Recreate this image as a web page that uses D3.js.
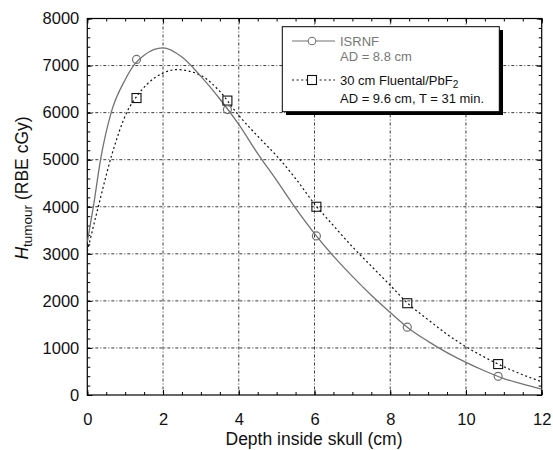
<!DOCTYPE html>
<html>
<head>
<meta charset="utf-8">
<script src="https://cdn.jsdelivr.net/npm/d3@7"></script>
<style>
  body { margin: 0; background: #fff; }
  text { font-family: "Liberation Sans", Arial, Helvetica, sans-serif; }
</style>
</head>
<body>
<svg id="chart" width="553" height="450"></svg>
<script>
// curve samples
const isrnfCurveX = [0, 0.16, 0.35, 0.63, 1.0, 1.25, 1.5, 2.0, 2.5, 3.0, 3.5, 4.0, 4.5, 5.0, 5.5, 6.0, 6.5, 7.0, 7.5, 8.0, 8.5, 9.0, 9.5, 10, 10.5, 11, 11.5, 12];
const isrnfCurveY = [3250, 4000, 5000, 6000, 6700, 7030, 7220, 7375, 7180, 6770, 6290, 5750, 5130, 4560, 3970, 3430, 2950, 2520, 2120, 1754, 1410, 1140, 900, 693, 510, 350, 230, 127];

const fluentalCurveX = [0, 0.29, 0.65, 1.04, 1.32, 1.6, 2.0, 2.36, 3.0, 3.5, 4.0, 4.5, 5.0, 5.5, 6.0, 6.5, 7.0, 7.5, 8.0, 8.5, 9.0, 9.5, 10, 10.5, 11, 11.5, 12];
const fluentalCurveY = [3050, 4000, 5110, 6000, 6360, 6620, 6840, 6914, 6790, 6450, 5940, 5500, 5080, 4600, 4060, 3600, 3150, 2740, 2330, 1920, 1600, 1290, 1025, 800, 600, 430, 282];

// marker positions
const markerX = [1.3, 3.7, 6.05, 8.45, 10.85];
const isrnfPoints = [7130, 6065, 3380, 1442, 397];
const fluentalPoints = [6310, 6256, 4000, 1950, 657];

const xTicks = [0, 2, 4, 6, 8, 10, 12];
const yTicks = [0, 1000, 2000, 3000, 4000, 5000, 6000, 7000, 8000];

const svg = d3.select('#chart');
const pl = 87.3, pr = 541.7, pt = 18.5, pb = 395;

const x = d3.scaleLinear().domain([0, 12]).range([pl, pr]);
const y = d3.scaleLinear().domain([0, 8000]).range([pb, pt]);

const xMinor = d3.range(0, 12.01, 0.5);
const yMinor = d3.range(0, 8001, 200);

// grid
const grid = svg.append('g').attr('stroke', '#222').attr('stroke-width', 0.9)
  .attr('stroke-dasharray', '3,2,1,2');
grid.selectAll('.gx').data(xTicks.slice(1, -1)).enter().append('line')
  .attr('x1', d => x(d)).attr('x2', d => x(d)).attr('y1', pt).attr('y2', pb);
grid.selectAll('.gy').data(yTicks.slice(1, -1)).enter().append('line')
  .attr('y1', d => y(d)).attr('y2', d => y(d)).attr('x1', pl).attr('x2', pr);

// axes, ticks inward on all sides
function styleAxis(g) {
  g.select('.domain').remove();
  g.selectAll('line').attr('stroke', '#000').attr('stroke-width', 1);
  g.selectAll('text').attr('font-size', 16.5).attr('fill', '#111');
}
const fmt = d3.format('d');
const xAxis = d3.axisBottom(x).tickValues(xTicks).tickFormat(fmt).tickSizeInner(-5).tickSizeOuter(0).tickPadding(18);
svg.append('g').attr('transform', `translate(0,${pb})`).call(xAxis).call(styleAxis);
svg.append('g').attr('transform', `translate(0,${pb})`)
  .call(d3.axisBottom(x).tickValues(xMinor).tickSizeInner(-3).tickSizeOuter(0).tickFormat(''))
  .call(styleAxis);
svg.append('g').attr('transform', `translate(0,${pt})`)
  .call(d3.axisTop(x).tickValues(xTicks).tickSizeInner(-5).tickSizeOuter(0).tickFormat(''))
  .call(styleAxis);
svg.append('g').attr('transform', `translate(0,${pt})`)
  .call(d3.axisTop(x).tickValues(xMinor).tickSizeInner(-3).tickSizeOuter(0).tickFormat(''))
  .call(styleAxis);

const yAxis = d3.axisLeft(y).tickValues(yTicks).tickFormat(fmt).tickSizeInner(-5).tickSizeOuter(0).tickPadding(8);
svg.append('g').attr('transform', `translate(${pl},0)`).call(yAxis).call(styleAxis);
svg.append('g').attr('transform', `translate(${pl},0)`)
  .call(d3.axisLeft(y).tickValues(yMinor).tickSizeInner(-3).tickSizeOuter(0).tickFormat(''))
  .call(styleAxis);
svg.append('g').attr('transform', `translate(${pr},0)`)
  .call(d3.axisRight(y).tickValues(yTicks).tickSizeInner(-5).tickSizeOuter(0).tickFormat(''))
  .call(styleAxis);
svg.append('g').attr('transform', `translate(${pr},0)`)
  .call(d3.axisRight(y).tickValues(yMinor).tickSizeInner(-3).tickSizeOuter(0).tickFormat(''))
  .call(styleAxis);

svg.append('rect').attr('x', pl).attr('y', pt)
  .attr('width', pr - pl).attr('height', pb - pt)
  .attr('fill', 'none').attr('stroke', '#000').attr('stroke-width', 1.2);

// curves
const line = d3.line().x(d => x(d[0])).y(d => y(d[1])).curve(d3.curveMonotoneX);
svg.append('clipPath').attr('id', 'clip').append('rect')
  .attr('x', pl).attr('y', pt).attr('width', pr - pl).attr('height', pb - pt);

svg.append('path')
  .datum(d3.zip(fluentalCurveX, fluentalCurveY))
  .attr('d', line).attr('fill', 'none').attr('stroke', '#111')
  .attr('stroke-width', 1.2).attr('stroke-dasharray', '2,2.6')
  .attr('clip-path', 'url(#clip)');

svg.append('path')
  .datum(d3.zip(isrnfCurveX, isrnfCurveY))
  .attr('d', line).attr('fill', 'none').attr('stroke', '#727272')
  .attr('stroke-width', 1.3).attr('clip-path', 'url(#clip)');

// markers
svg.selectAll('.sq').data(d3.zip(markerX, fluentalPoints)).enter().append('rect')
  .attr('x', d => x(d[0]) - 4.5).attr('y', d => y(d[1]) - 4.5)
  .attr('width', 9).attr('height', 9)
  .attr('fill', 'none').attr('stroke', '#111').attr('stroke-width', 1.1);

svg.selectAll('.ci').data(d3.zip(markerX, isrnfPoints)).enter().append('circle')
  .attr('cx', d => x(d[0])).attr('cy', d => y(d[1])).attr('r', 4)
  .attr('fill', 'none').attr('stroke', '#727272').attr('stroke-width', 1.2);

// axis titles
svg.append('text').attr('x', (pl + pr) / 2 - 0.5).attr('y', 445)
  .attr('text-anchor', 'middle').attr('font-size', 17.5).attr('fill', '#111')
  .text('Depth inside skull (cm)');

const yt = svg.append('text').attr('transform', 'translate(28,188) rotate(-90)')
  .attr('text-anchor', 'middle').attr('font-size', 17.5).attr('fill', '#111');
yt.append('tspan').attr('font-style', 'italic').text('H');
yt.append('tspan').attr('font-size', 13.5).attr('dy', 4).text('tumour');
yt.append('tspan').attr('dy', -4).text(' (RBE cGy)');

// legend
const lg = svg.append('g');
lg.append('rect').attr('x', 286).attr('y', 30).attr('width', 217).attr('height', 85).attr('fill', '#000');
lg.append('rect').attr('x', 282.3).attr('y', 26.7).attr('width', 217).attr('height', 85)
  .attr('fill', '#fff').attr('stroke', '#000').attr('stroke-width', 1);

lg.append('line').attr('x1', 292).attr('x2', 335).attr('y1', 41).attr('y2', 41)
  .attr('stroke', '#727272').attr('stroke-width', 1.2);
lg.append('circle').attr('cx', 312).attr('cy', 41).attr('r', 3.8)
  .attr('fill', '#fff').attr('stroke', '#727272').attr('stroke-width', 1.1);
lg.append('text').attr('x', 340).attr('y', 45.5).attr('font-size', 13).attr('fill', '#777').text('ISRNF');
lg.append('text').attr('x', 340).attr('y', 61).attr('font-size', 13).attr('fill', '#777').text('AD = 8.8 cm');

lg.append('line').attr('x1', 292).attr('x2', 335).attr('y1', 80).attr('y2', 80)
  .attr('stroke', '#111').attr('stroke-width', 1.1).attr('stroke-dasharray', '2,2.6');
lg.append('rect').attr('x', 307.5).attr('y', 75.5).attr('width', 9).attr('height', 9)
  .attr('fill', '#fff').attr('stroke', '#111').attr('stroke-width', 1.1);
const t2 = lg.append('text').attr('x', 340).attr('y', 84.5).attr('font-size', 13).attr('fill', '#111');
t2.append('tspan').text('30 cm Fluental/PbF');
t2.append('tspan').attr('font-size', 10).attr('dy', 3).text('2');
lg.append('text').attr('x', 340).attr('y', 103).attr('font-size', 13).attr('fill', '#111')
  .text('AD = 9.6 cm, T = 31 min.');
</script>
</body>
</html>
